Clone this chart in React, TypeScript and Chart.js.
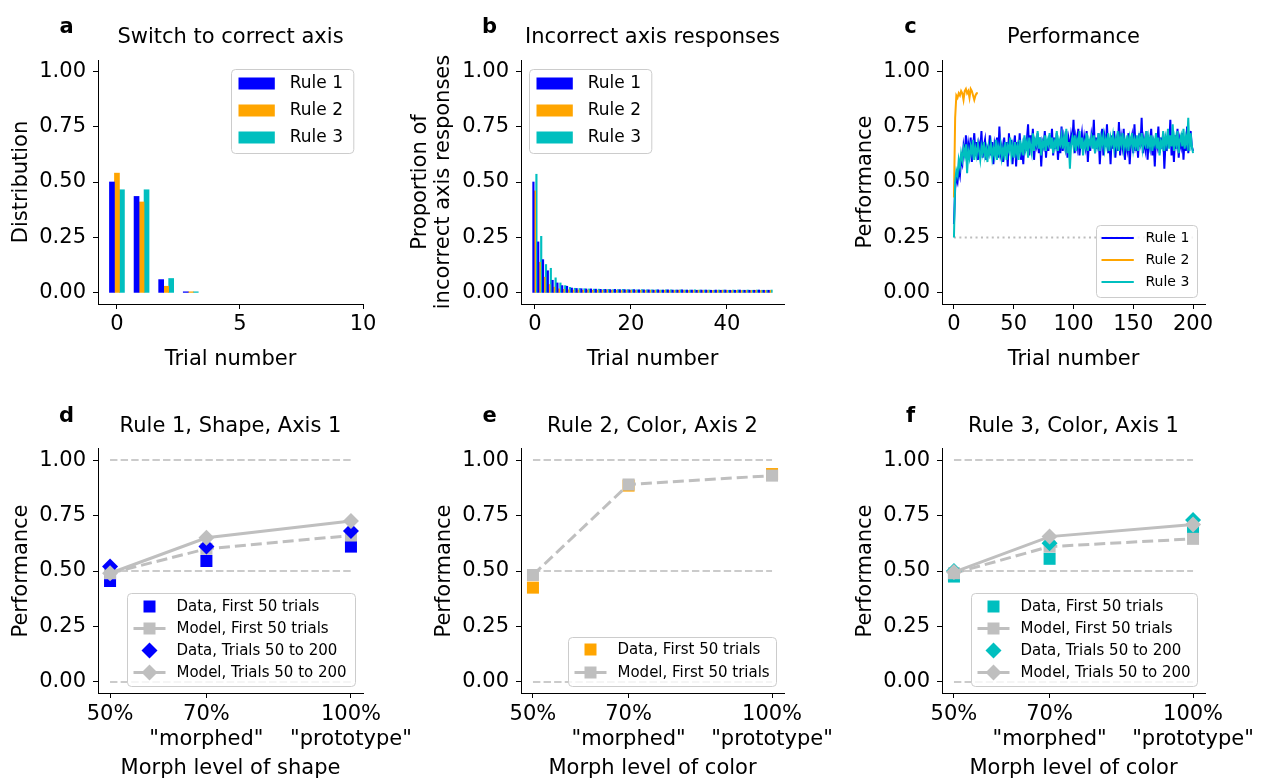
import React, { useEffect, useRef } from 'react';
import { Chart, registerables } from 'chart.js';

Chart.register(...registerables);
Chart.defaults.font.family = '"DejaVu Sans", sans-serif';
Chart.defaults.color = '#000';

// ---------------- data ----------------
const yTicks = [0, 0.25, 0.5, 0.75, 1];

// a: switch to correct axis
const switchTrials = [0, 1, 2, 3];
const switchRule1 = [0.5, 0.435, 0.06, 0.005];
const switchRule2 = [0.54, 0.41, 0.03, 0.005];
const switchRule3 = [0.465, 0.465, 0.065, 0.005];
const switchXTicks = [0, 5, 10];

// b: incorrect axis responses (trial 0..49)
const incorrectRule1 = [
  0.5, 0.23, 0.15, 0.1, 0.057, 0.045, 0.033, 0.03, 0.022, 0.02,
  0.019, 0.018, 0.018, 0.017, 0.016, 0.016, 0.015, 0.016, 0.015, 0.015,
  0.014, 0.015, 0.014, 0.014, 0.014, 0.013, 0.014, 0.013, 0.014, 0.013,
  0.013, 0.014, 0.013, 0.013, 0.012, 0.013, 0.013, 0.012, 0.013, 0.012,
  0.013, 0.012, 0.012, 0.013, 0.012, 0.012, 0.012, 0.013, 0.012, 0.012,
];
const incorrectRule2 = [
  0.46, 0.138, 0.071, 0.038, 0.026, 0.018, 0.016, 0.014, 0.013, 0.013,
  0.012, 0.013, 0.012, 0.012, 0.012, 0.013, 0.012, 0.012, 0.011, 0.012,
  0.012, 0.011, 0.012, 0.011, 0.012, 0.011, 0.011, 0.012, 0.011, 0.011,
  0.012, 0.011, 0.011, 0.011, 0.012, 0.011, 0.011, 0.011, 0.011, 0.012,
  0.011, 0.011, 0.011, 0.011, 0.011, 0.011, 0.012, 0.011, 0.011, 0.011,
];
const incorrectRule3 = [
  0.535, 0.255, 0.128, 0.111, 0.068, 0.045, 0.033, 0.025, 0.021, 0.02,
  0.019, 0.018, 0.017, 0.017, 0.016, 0.016, 0.015, 0.015, 0.016, 0.015,
  0.015, 0.014, 0.015, 0.014, 0.014, 0.014, 0.013, 0.014, 0.014, 0.013,
  0.014, 0.013, 0.013, 0.014, 0.013, 0.013, 0.013, 0.012, 0.013, 0.013,
  0.012, 0.013, 0.013, 0.012, 0.013, 0.012, 0.013, 0.012, 0.012, 0.013,
];
const incorrectXTicks = [0, 20, 40];

// c: performance per trial
const perfRule1 = [
  0.31, 0.47, 0.52, 0.5, 0.56, 0.53, 0.6, 0.58, 0.66, 0.62,
  0.71, 0.6, 0.67, 0.63, 0.7, 0.59, 0.66, 0.72, 0.62, 0.68,
  0.6, 0.67, 0.64, 0.73, 0.61, 0.66, 0.69, 0.6, 0.65, 0.63,
  0.71, 0.62, 0.68, 0.58, 0.67, 0.64, 0.7, 0.61, 0.75, 0.63,
  0.66, 0.59, 0.7, 0.62, 0.68, 0.57, 0.72, 0.64, 0.69, 0.58,
  0.66, 0.71, 0.57, 0.68, 0.63, 0.72, 0.6, 0.66, 0.58, 0.7,
  0.64, 0.69, 0.76, 0.62, 0.71, 0.65, 0.74, 0.6, 0.68, 0.66,
  0.72, 0.63, 0.7, 0.57, 0.68, 0.66, 0.73, 0.61, 0.69, 0.64,
  0.71, 0.66, 0.74, 0.62, 0.7, 0.65, 0.72, 0.6, 0.68, 0.63,
  0.75, 0.64, 0.7, 0.66, 0.73, 0.61, 0.69, 0.65, 0.71, 0.67,
  0.78, 0.63, 0.7, 0.66, 0.74, 0.62, 0.68, 0.72, 0.64, 0.7,
  0.66, 0.73, 0.59, 0.69, 0.64, 0.71, 0.67, 0.78, 0.63, 0.7,
  0.65, 0.72, 0.58, 0.68, 0.74, 0.62, 0.7, 0.66, 0.76, 0.63,
  0.69, 0.58, 0.71, 0.65, 0.73, 0.61, 0.68, 0.64, 0.77, 0.62,
  0.7, 0.66, 0.74, 0.6, 0.69, 0.65, 0.72, 0.58, 0.68, 0.71,
  0.63, 0.76, 0.64, 0.7, 0.61, 0.72, 0.66, 0.79, 0.63, 0.69,
  0.65, 0.73, 0.6, 0.7, 0.66, 0.74, 0.62, 0.69, 0.57, 0.71,
  0.67, 0.75, 0.63, 0.7, 0.65, 0.72, 0.56, 0.68, 0.64, 0.73,
  0.66, 0.78, 0.62, 0.7, 0.59, 0.71, 0.65, 0.74, 0.61, 0.69,
  0.66, 0.72, 0.6, 0.7, 0.64, 0.75, 0.63, 0.68, 0.73, 0.66,
  0.64,
];
const perfRule2 = [
  0.43, 0.79, 0.89, 0.88, 0.9, 0.89, 0.91, 0.9, 0.87, 0.91,
  0.92, 0.9, 0.91, 0.88, 0.92, 0.91, 0.89, 0.87, 0.89, 0.9,
  0.9,
];
const perfRule3 = [
  0.25, 0.5, 0.55, 0.53, 0.6, 0.57, 0.63, 0.6, 0.65, 0.62,
  0.67, 0.54, 0.64, 0.61, 0.66, 0.63, 0.69, 0.6, 0.65, 0.62,
  0.67, 0.64, 0.6, 0.66, 0.63, 0.68, 0.62, 0.65, 0.59, 0.66,
  0.63, 0.67, 0.61, 0.65, 0.62, 0.69, 0.6, 0.66, 0.63, 0.67,
  0.61, 0.65, 0.62, 0.68, 0.6, 0.66, 0.64, 0.7, 0.62, 0.66,
  0.61, 0.68, 0.63, 0.66, 0.6, 0.69, 0.64, 0.67, 0.62, 0.71,
  0.65, 0.68, 0.61, 0.7, 0.66, 0.63, 0.72, 0.64, 0.69, 0.67,
  0.73, 0.65, 0.7, 0.62, 0.68, 0.66, 0.71, 0.64, 0.69, 0.67,
  0.72, 0.65, 0.7, 0.63, 0.68, 0.66, 0.73, 0.64, 0.69, 0.67,
  0.71, 0.65, 0.7, 0.66, 0.74, 0.63, 0.68, 0.56, 0.67, 0.7,
  0.66, 0.71, 0.64, 0.69, 0.67, 0.73, 0.65, 0.7, 0.62, 0.68,
  0.66, 0.72, 0.64, 0.69, 0.67, 0.7, 0.65, 0.71, 0.63, 0.68,
  0.66, 0.72, 0.64, 0.7, 0.67, 0.71, 0.65, 0.69, 0.66, 0.72,
  0.64, 0.7, 0.67, 0.71, 0.65, 0.69, 0.66, 0.73, 0.64, 0.7,
  0.67, 0.72, 0.65, 0.69, 0.66, 0.71, 0.64, 0.7, 0.67, 0.72,
  0.65, 0.69, 0.66, 0.71, 0.64, 0.7, 0.67, 0.72, 0.65, 0.69,
  0.67, 0.73, 0.65, 0.7, 0.66, 0.71, 0.64, 0.69, 0.67, 0.72,
  0.65, 0.7, 0.62, 0.68, 0.66, 0.73, 0.64, 0.7, 0.67, 0.74,
  0.65, 0.71, 0.66, 0.76, 0.64, 0.7, 0.67, 0.73, 0.63, 0.69,
  0.71, 0.66, 0.74, 0.65, 0.7, 0.67, 0.79, 0.64, 0.72, 0.66,
  0.63,
];
const chanceLevel = 0.25;
const chanceSpan = [0, 200];
const perfXTicks = [0, 50, 100, 150, 200];

// d-f: performance by morph level
const morphLevels = [50, 70, 100];
const morphTickLabels: (string | string[])[] = ['50%', ['70%', '"morphed"'], ['100%', '"prototype"']];
const refLevels = [0, 0.5, 1];

const shapeR1DataFirst50 = [0.455, 0.545, 0.61];
const shapeR1ModelFirst50 = [0.49, 0.6, 0.66];
const shapeR1DataLate = [0.52, 0.61, 0.68];
const shapeR1ModelLate = [0.49, 0.65, 0.725];

const colorR2DataFirst50 = [0.425, 0.885, 0.937];
const colorR2ModelFirst50 = [0.482, 0.89, 0.93];

const colorR3DataFirst50 = [0.475, 0.555, 0.69];
const colorR3ModelFirst50 = [0.49, 0.61, 0.645];
const colorR3DataLate = [0.5, 0.625, 0.73];
const colorR3ModelLate = [0.495, 0.655, 0.71];

// ---------------- styles ----------------
const BLUE = '#0000ff';
const ORANGE = '#ffa500';
const CYAN = '#00bfbf';
const MODEL_GRAY = '#bfbfbf';
const REF_GRAY = '#cbcbcb';
const FONT = '"DejaVu Sans", sans-serif';
const DIAMOND_R = 8;
const SQUARE_R = 8.5;

type Rect = { left: number; top: number; width: number; height: number };
type Plot = { left: number; top: number; right: number; bottom: number };
type LegendItem = { label: string; kind: 'bar' | 'line' | 'marker' | 'lineMarker'; color: string; marker?: 'rect' | 'rectRot' };
type LegendSpec = {
  dx: number; dy: number; w: number; h: number; rows: number[]; font: number;
  x0: number; x1: number; mx: number; tx: number; lineW: number; items: LegendItem[];
};

function drawMarker(ctx: CanvasRenderingContext2D, x: number, y: number, style: string, color: string) {
  ctx.fillStyle = color;
  ctx.beginPath();
  if (style === 'rect') {
    ctx.rect(x - 6, y - 6, 12, 12);
  } else {
    const r = DIAMOND_R;
    ctx.moveTo(x - r, y);
    ctx.lineTo(x, y - r);
    ctx.lineTo(x + r, y);
    ctx.lineTo(x, y + r);
    ctx.closePath();
  }
  ctx.fill();
}

function decorPlugin(letter: string, legend: LegendSpec) {
  return {
    id: 'decor',
    afterDraw(chart: any) {
      const { ctx, chartArea } = chart;
      ctx.save();
      ctx.fillStyle = '#000';
      ctx.font = `bold 21px ${FONT}`;
      ctx.textAlign = 'center';
      ctx.textBaseline = 'alphabetic';
      ctx.fillText(letter, chartArea.left - 31.5, chartArea.top - 27);

      const bx = Math.round(chartArea.left + legend.dx) + 0.5;
      const by = Math.round(chartArea.top + legend.dy) + 0.5;
      ctx.beginPath();
      if (ctx.roundRect) ctx.roundRect(bx, by, legend.w, legend.h, 4);
      else ctx.rect(bx, by, legend.w, legend.h);
      ctx.fillStyle = 'rgba(255,255,255,0.8)';
      ctx.fill();
      ctx.strokeStyle = '#cccccc';
      ctx.lineWidth = 1;
      ctx.stroke();

      legend.items.forEach((it, i) => {
        const cy = by + legend.rows[i];
        if (it.kind === 'bar') {
          ctx.fillStyle = it.color;
          ctx.fillRect(bx + legend.x0, cy - 6, legend.x1 - legend.x0, 12);
        }
        if (it.kind === 'line' || it.kind === 'lineMarker') {
          ctx.strokeStyle = it.color;
          ctx.lineWidth = legend.lineW;
          ctx.beginPath();
          ctx.moveTo(bx + legend.x0, cy);
          ctx.lineTo(bx + legend.x1, cy);
          ctx.stroke();
        }
        if (it.kind === 'marker' || it.kind === 'lineMarker') {
          drawMarker(ctx, bx + legend.mx, cy, it.marker || 'rect', it.color);
        }
        ctx.fillStyle = '#000';
        ctx.font = `${legend.font}px ${FONT}`;
        ctx.textAlign = 'left';
        ctx.textBaseline = 'middle';
        ctx.fillText(it.label, bx + legend.tx, cy + 0.5);
      });
      ctx.restore();
    },
  };
}

type BaseOpts = {
  rect: Rect; plot: Plot; yAxisW: number; xAxisH: number; title: string;
  xMin: number; xMax: number; xTicks: number[]; xLabel: (v: number, i: number) => any;
  xTitle: string; yTitle: string | string[]; yTitleLH?: number; yTitlePad?: number;
  xTickPad: number; xTitlePad: number;
};

const axisGrid = { display: true, drawOnChartArea: false, drawTicks: true, tickLength: 5, color: '#000', lineWidth: 1, offset: false };
const axisBorder = { display: true, color: '#000', width: 1 };

function baseOptions(o: BaseOpts) {
  return {
    responsive: false,
    animation: false,
    devicePixelRatio: 1,
    events: [],
    layout: {
      padding: {
        left: o.plot.left - o.yAxisW - o.rect.left,
        right: o.rect.left + o.rect.width - o.plot.right,
        top: o.plot.top - 35.1 - o.rect.top,
        bottom: o.rect.top + o.rect.height - o.plot.bottom - o.xAxisH,
      },
    },
    plugins: {
      legend: { display: false },
      tooltip: { enabled: false },
      title: {
        display: true,
        text: o.title,
        fullSize: false,
        color: '#000',
        font: { size: 21, weight: 'normal', lineHeight: 1.2, family: FONT },
        padding: { top: 0, bottom: 9.9 },
      },
    },
    scales: {
      x: {
        type: 'linear',
        min: o.xMin,
        max: o.xMax,
        offset: false,
        afterBuildTicks: (s: any) => { s.ticks = o.xTicks.map((v) => ({ value: v })); },
        afterFit: (s: any) => { s.height = o.xAxisH; },
        ticks: {
          autoSkip: false, maxRotation: 0, minRotation: 0, padding: o.xTickPad,
          color: '#000', font: { size: 21, family: FONT, lineHeight: 1.2 },
          callback: (v: any, i: number) => o.xLabel(Number(v), i),
        },
        grid: axisGrid,
        border: axisBorder,
        title: {
          display: true, text: o.xTitle, color: '#000',
          font: { size: 21, family: FONT, lineHeight: 1.2 },
          padding: { top: 0, bottom: o.xTitlePad },
        },
      },
      y: {
        type: 'linear',
        min: -0.05,
        max: 1.05,
        afterBuildTicks: (s: any) => { s.ticks = yTicks.map((v) => ({ value: v })); },
        afterFit: (s: any) => { s.width = o.yAxisW; },
        ticks: {
          autoSkip: false, padding: 7, color: '#000', font: { size: 21, family: FONT },
          callback: (v: any) => Number(v).toFixed(2),
        },
        grid: axisGrid,
        border: axisBorder,
        title: {
          display: true, text: o.yTitle, color: '#000',
          font: { size: 21, family: FONT, lineHeight: o.yTitleLH ?? 1.2 },
          padding: { top: o.yTitlePad ?? 1.4, bottom: 0 },
        },
      },
    },
  };
}

// ---------------- geometry ----------------
const ROW1 = { top: 60, bottom: 304 };
const ROW2 = { top: 449, bottom: 693 };
const COL1 = { left: 98, right: 363 };
const COL2 = { left: 521, right: 784 };
const COL3 = { left: 942, right: 1205 };
const CANVAS_COL = [
  { left: 0, width: 430 },
  { left: 400, width: 450 },
  { left: 842, width: 440 },
];
const CANVAS_ROW = [
  { top: 0, height: 389 },
  { top: 389, height: 400 },
];
const rectOf = (c: number, r: number): Rect => ({ ...CANVAS_COL[c], ...CANVAS_ROW[r] });

const row1Axis = { xAxisH: 70, xTickPad: 3, xTitlePad: 1.4 };
const row2Axis = { xAxisH: 88, xTickPad: 4, xTitlePad: -0.6 };

const barLegend = (dx: number): LegendSpec => ({
  dx, dy: 9, w: 122.3, h: 84, rows: [14, 41, 68], font: 17, x0: 7, x1: 43.3, mx: 0, tx: 58.3, lineW: 0,
  items: [
    { label: 'Rule 1', kind: 'bar', color: BLUE },
    { label: 'Rule 2', kind: 'bar', color: ORANGE },
    { label: 'Rule 3', kind: 'bar', color: CYAN },
  ],
});

const fourItemLegend = (dx: number, w: number, dataColor: string): LegendSpec => ({
  dx, dy: 144, w, h: 93, rows: [13, 35, 57, 79], font: 15, x0: 6, x1: 38, mx: 22, tx: 49, lineW: 3,
  items: [
    { label: 'Data, First 50 trials', kind: 'marker', color: dataColor, marker: 'rect' },
    { label: 'Model, First 50 trials', kind: 'lineMarker', color: MODEL_GRAY, marker: 'rect' },
    { label: 'Data, Trials 50 to 200', kind: 'marker', color: dataColor, marker: 'rectRot' },
    { label: 'Model, Trials 50 to 200', kind: 'lineMarker', color: MODEL_GRAY, marker: 'rectRot' },
  ],
});

// ---------------- chart configs ----------------
const bars = (xs: number[], ys: number[]) => ys.map((y, i) => ({ x: xs[i], y }));
const series = (ys: number[]) => ys.map((y, i) => ({ x: i, y }));
const morphPts = (ys: number[]) => morphLevels.map((x, i) => ({ x, y: ys[i] }));

function refDatasets() {
  return refLevels.map((lvl) => ({
    type: 'line',
    data: [{ x: morphLevels[0], y: lvl }, { x: morphLevels[morphLevels.length - 1], y: lvl }],
    borderColor: REF_GRAY, borderWidth: 2, borderDash: [7.4, 3.2], pointRadius: 0, order: 10,
  }));
}

function markerDs(label: string, ys: number[], color: string, style: string, order: number, line?: { dash?: number[] }) {
  return {
    type: 'line',
    label,
    data: morphPts(ys),
    showLine: !!line,
    borderColor: color,
    borderWidth: 3,
    borderDash: line?.dash || [],
    backgroundColor: color,
    pointBackgroundColor: color,
    pointBorderColor: color,
    pointBorderWidth: 0,
    pointStyle: style,
    pointRadius: style === 'rect' ? SQUARE_R : DIAMOND_R,
    order,
  };
}

function configA() {
  const rect = rectOf(0, 0);
  const plot = { ...COL1, ...ROW1 };
  const mk = (label: string, ys: number[], color: string) => ({
    label, data: bars(switchTrials, ys), backgroundColor: color, barThickness: 5, grouped: true,
  });
  return {
    type: 'bar',
    data: { datasets: [mk('Rule 1', switchRule1, BLUE), mk('Rule 2', switchRule2, ORANGE), mk('Rule 3', switchRule3, CYAN)] },
    options: baseOptions({
      rect, plot, yAxisW: 90, ...row1Axis, title: 'Switch to correct axis',
      xMin: -0.77, xMax: 10, xTicks: switchXTicks, xLabel: (v) => String(v),
      xTitle: 'Trial number', yTitle: 'Distribution',
    }),
    plugins: [decorPlugin('a', barLegend(132.7))],
  };
}

function configB() {
  const rect = rectOf(1, 0);
  const plot = { ...COL2, ...ROW1 };
  const mk = (label: string, ys: number[], color: string) => ({
    label, data: series(ys), backgroundColor: color, barThickness: 1.5, grouped: true,
  });
  return {
    type: 'bar',
    data: { datasets: [mk('Rule 1', incorrectRule1, BLUE), mk('Rule 2', incorrectRule2, ORANGE), mk('Rule 3', incorrectRule3, CYAN)] },
    options: baseOptions({
      rect, plot, yAxisW: 112, ...row1Axis, title: 'Incorrect axis responses',
      xMin: -2.9, xMax: 51.9, xTicks: incorrectXTicks, xLabel: (v) => String(v),
      xTitle: 'Trial number', yTitle: ['Proportion of', 'incorrect axis responses'], yTitleLH: 1.1, yTitlePad: 0,
    }),
    plugins: [decorPlugin('b', barLegend(8))],
  };
}

function configC() {
  const rect = rectOf(2, 0);
  const plot = { ...COL3, ...ROW1 };
  const ln = (label: string, ys: number[], color: string, order: number) => ({
    type: 'line', label, data: series(ys), borderColor: color, borderWidth: 2, pointRadius: 0, tension: 0, order,
  });
  return {
    type: 'line',
    data: {
      datasets: [
        {
          type: 'line', data: chanceSpan.map((x) => ({ x, y: chanceLevel })),
          borderColor: '#bdbdbd', borderWidth: 2, borderDash: [2, 3.4], pointRadius: 0, order: 10,
        },
        ln('Rule 1', perfRule1, BLUE, 3),
        ln('Rule 2', perfRule2, ORANGE, 2),
        ln('Rule 3', perfRule3, CYAN, 1),
      ],
    },
    options: baseOptions({
      rect, plot, yAxisW: 90, ...row1Axis, title: 'Performance',
      xMin: -10, xMax: 210, xTicks: perfXTicks, xLabel: (v) => String(v),
      xTitle: 'Trial number', yTitle: 'Performance',
    }),
    plugins: [decorPlugin('c', {
      dx: 154, dy: 165, w: 101, h: 72, rows: [12.5, 34.5, 56.5], font: 14, x0: 5, x1: 37.3, mx: 0, tx: 49, lineW: 2,
      items: [
        { label: 'Rule 1', kind: 'line', color: BLUE },
        { label: 'Rule 2', kind: 'line', color: ORANGE },
        { label: 'Rule 3', kind: 'line', color: CYAN },
      ],
    })],
  };
}

function morphOptions(rect: Rect, plot: Plot, title: string, xTitle: string) {
  return baseOptions({
    rect, plot, yAxisW: 90, ...row2Axis, title,
    xMin: 47.5, xMax: 102.5, xTicks: morphLevels, xLabel: (_v, i) => morphTickLabels[i],
    xTitle, yTitle: 'Performance',
  });
}

function configD() {
  return {
    type: 'line',
    data: {
      datasets: [
        ...refDatasets(),
        markerDs('Data, First 50 trials', shapeR1DataFirst50, BLUE, 'rect', 4),
        markerDs('Model, First 50 trials', shapeR1ModelFirst50, MODEL_GRAY, 'rect', 3, { dash: [11, 5] }),
        markerDs('Data, Trials 50 to 200', shapeR1DataLate, BLUE, 'rectRot', 2),
        markerDs('Model, Trials 50 to 200', shapeR1ModelLate, MODEL_GRAY, 'rectRot', 1, {}),
      ],
    },
    options: morphOptions(rectOf(0, 1), { ...COL1, ...ROW2 }, 'Rule 1, Shape, Axis 1', 'Morph level of shape'),
    plugins: [decorPlugin('d', fourItemLegend(29, 228, BLUE))],
  };
}

function configE() {
  return {
    type: 'line',
    data: {
      datasets: [
        ...refDatasets(),
        markerDs('Data, First 50 trials', colorR2DataFirst50, ORANGE, 'rect', 4),
        markerDs('Model, First 50 trials', colorR2ModelFirst50, MODEL_GRAY, 'rect', 3, { dash: [11, 5] }),
      ],
    },
    options: morphOptions(rectOf(1, 1), { ...COL2, ...ROW2 }, 'Rule 2, Color, Axis 2', 'Morph level of color'),
    plugins: [decorPlugin('e', {
      dx: 47, dy: 188, w: 208, h: 49, rows: [12, 35], font: 15, x0: 6, x1: 38, mx: 22, tx: 49, lineW: 3,
      items: [
        { label: 'Data, First 50 trials', kind: 'marker', color: ORANGE, marker: 'rect' },
        { label: 'Model, First 50 trials', kind: 'lineMarker', color: MODEL_GRAY, marker: 'rect' },
      ],
    })],
  };
}

function configF() {
  return {
    type: 'line',
    data: {
      datasets: [
        ...refDatasets(),
        markerDs('Data, First 50 trials', colorR3DataFirst50, CYAN, 'rect', 4),
        markerDs('Model, First 50 trials', colorR3ModelFirst50, MODEL_GRAY, 'rect', 3, { dash: [11, 5] }),
        markerDs('Data, Trials 50 to 200', colorR3DataLate, CYAN, 'rectRot', 2),
        markerDs('Model, Trials 50 to 200', colorR3ModelLate, MODEL_GRAY, 'rectRot', 1, {}),
      ],
    },
    options: morphOptions(rectOf(2, 1), { ...COL3, ...ROW2 }, 'Rule 3, Color, Axis 1', 'Morph level of color'),
    plugins: [decorPlugin('f', fourItemLegend(29, 226, CYAN))],
  };
}

// ---------------- components ----------------
function ChartPanel({ rect, make }: { rect: Rect; make: () => any }) {
  const ref = useRef<HTMLCanvasElement | null>(null);
  useEffect(() => {
    if (!ref.current) return;
    const chart = new Chart(ref.current, make());
    return () => chart.destroy();
  }, []);
  return (
    <canvas
      ref={ref}
      width={rect.width}
      height={rect.height}
      style={{ position: 'absolute', left: rect.left, top: rect.top, width: rect.width, height: rect.height }}
    />
  );
}

export default function App() {
  return (
    <div style={{ position: 'absolute', left: 0, top: 0, width: 1261, height: 778, overflow: 'hidden', background: '#fff' }}>
      <ChartPanel rect={rectOf(0, 0)} make={configA} />
      <ChartPanel rect={rectOf(1, 0)} make={configB} />
      <ChartPanel rect={rectOf(2, 0)} make={configC} />
      <ChartPanel rect={rectOf(0, 1)} make={configD} />
      <ChartPanel rect={rectOf(1, 1)} make={configE} />
      <ChartPanel rect={rectOf(2, 1)} make={configF} />
    </div>
  );
}
